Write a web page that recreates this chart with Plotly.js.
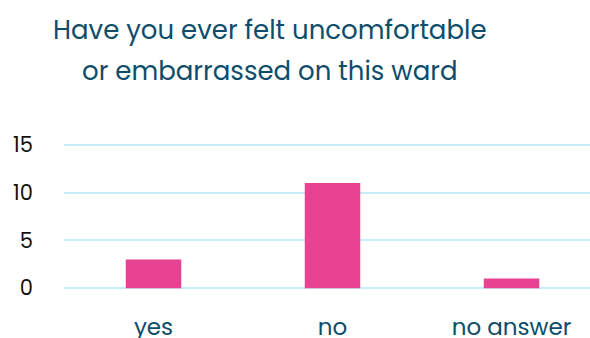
<!DOCTYPE html>
<html><head><meta charset="utf-8">
<script src="https://cdn.plot.ly/plotly-3.0.1.min.js"></script>
<style>html,body{margin:0;padding:0;background:#fff}#chart{width:590px;height:338px}</style>
</head><body><div id="chart"></div>
<script>
const categories = ["yes", "no", "no answer"];
const counts = [3, 11, 1];
const yTicks = [0, 5, 10, 15];
const titleLines = ["Have you ever felt uncomfortable", "or embarrassed on this ward"];

const fontFam = "Poppins, Inter, 'Open Sans', sans-serif";
const titleFont = {family: fontFam, size: 26, color: "#0e4d6a"};
const titleY = [1.752, 1.477];
Plotly.newPlot("chart", [{
  type: "bar",
  x: categories,
  y: counts,
  width: 0.31,
  marker: {color: "#e84393"},
  hoverinfo: "x+y"
}], {
  width: 590, height: 338,
  margin: {l: 64, r: 0, t: 142, b: 47},
  paper_bgcolor: "#fff", plot_bgcolor: "#fff",
  showlegend: false,
  annotations: titleLines.map((t, i) => ({
    text: t, xref: "paper", yref: "paper",
    x: 0.3916, y: titleY[i], xanchor: "center", yanchor: "middle",
    showarrow: false, font: titleFont
  })),
  xaxis: {
    type: "category",
    range: [-0.5, 2.4385],
    showgrid: false, zeroline: false, showline: false,
    ticks: "", ticklabelstandoff: 20,
    tickfont: {family: fontFam, size: 23, color: "#0e4d6a"}
  },
  yaxis: {
    range: [-0.3, 15.3],
    tickvals: yTicks,
    showgrid: true, gridcolor: "#c8ecfa", gridwidth: 2,
    zeroline: false, showline: false,
    ticks: "", ticklabelstandoff: 30,
    tickfont: {family: fontFam, size: 21, color: "#111"}
  }
}, {displayModeBar: false, staticPlot: true});
</script></body></html>
